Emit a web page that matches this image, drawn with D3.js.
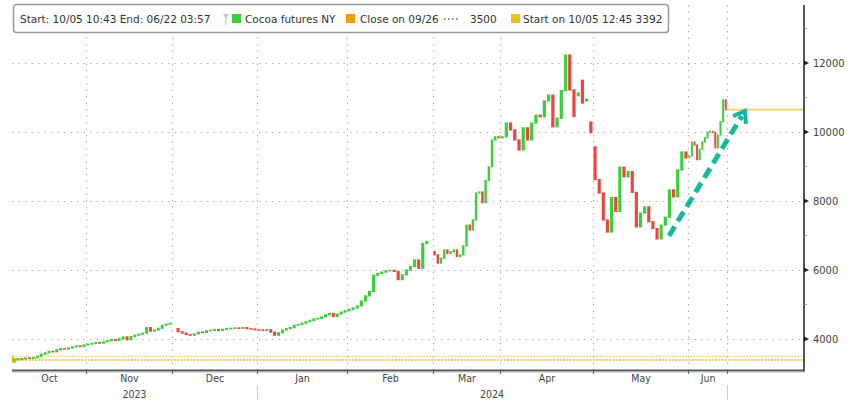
<!DOCTYPE html>
<html><head><meta charset="utf-8">
<script src="https://cdn.jsdelivr.net/npm/d3@7"></script>
<style>
html,body{margin:0;padding:0;background:#fff;}
svg{display:block;}
.ax{font-family:"DejaVu Sans Condensed","DejaVu Sans",sans-serif;font-stretch:condensed;font-size:10.5px;fill:#444;}
.lg{font-family:"DejaVu Sans",sans-serif;font-size:10.5px;fill:#333;}
</style></head><body>
<svg id="c" width="848" height="400"></svg>
<script>
// ---- data ----
const monthLabels = ["Oct","Nov","Dec","Jan","Feb","Mar","Apr","May","Jun"];
const yearLabels = ["2023","2024"];
const yearFirstMonth = [0, 3];          // month index where each year starts
const octCloses = [3400,3430,3420,3450,3440,3460,3500,3560,3600,3640,3630,3690,3720,3710,3740,3770,3800,3780,3830];
const novCloses = [3850,3870,3900,3880,3920,3950,3980,3960,4010,4060,3980,4070,4110,4140,4170,4330,4230,4260,4310,4400,4430,4460];
const decCloses = [null,4210,4170,4130,4110,4150,4200,4190,4240,4250,4270,4250,4280,4300,4310,4320,4310,4330,4300,4290,4270];
const janCloses = [4260,4250,4270,4200,4110,4180,4260,4300,4330,4400,4420,4460,4500,4540,4580,4600,4640,4700,4740,4650,4720,4780,4820];
const febCloses = [4860,4900,4960,5100,5250,5380,5850,5900,5940,5980,5990,5960,5720,5860,6000,6100,6290,6050,6770,6830,null];
const marCloses = [6440,6200,6340,6580,6480,6530,6580,6390,6440,6700,7300,7160,7450,8230,8260,7950,8600,8990,9770,9860,9830];
const aprCloses = [9860,10260,10060,9770,9480,10120,9770,10260,10490,10440,10900,11070,10150,10400,11200,12230,11220,10450,11130,10840,10950,9980];
const mayCloses = [8620,8230,7450,7100,8100,7700,8980,8700,8850,8250,7250,7650,7830,7400,7200,6900,7300,7530,8320,8120,8900,9420,9250];
const junCloses = [9300,9710,9620,9200,9500,9710,9830,10000,10020,9990,9540,9910,10300,10930,10650];
// opens of bars that start away from the previous close (after gaps): [session, open]
const gapOpens = [[42,4300],[106,6540],[145,11050],[146,11500],[147,10900],[148,10290],[149,9570]];
const startPrice = 3392, closeRef = 3500, lastPrice = 10650;
const yMajor = [4000,6000,8000,10000,12000];
const yMinor = [5000,7000,9000,11000,13000];
const arrowPts = [[167.4, 6990],[194, 10610]];   // [session, price]

// ---- scales ----
const svg = d3.select("#c");
const monthCloses = [octCloses,novCloses,decCloses,janCloses,febCloses,marCloses,aprCloses,mayCloses,junCloses];
const closes = monthCloses.flat();
const bounds = [0];
monthCloses.forEach(m => bounds.push(bounds[bounds.length-1] + m.length));
const padSessions = 30;
const x = d3.scaleLinear()
  .domain(bounds.concat([bounds[bounds.length-1] + padSessions]))
  .range([12, 86, 172, 257, 347, 433, 500, 593, 688, 727, 804]);
const y = d3.scaleLinear().domain([4000,12000]).range([339,63]);
const L = 12, R = 804, T = 5, B = 370;

// ---- grid ----
const grid = svg.append("g");
grid.selectAll(".hg").data(yMajor).join("line")
  .attr("x1", L).attr("x2", R).attr("y1", d=>y(d)+0.5).attr("y2", d=>y(d)+0.5)
  .attr("stroke","#b5b5b5").attr("stroke-width",1.2).attr("stroke-dasharray","1.5,5");
grid.selectAll(".vg").data(bounds.slice(1)).join("line")
  .attr("x1", d=>x(d)+0.5).attr("x2", d=>x(d)+0.5).attr("y1", T).attr("y2", B)
  .attr("stroke","#b5b5b5").attr("stroke-width",1.2).attr("stroke-dasharray","1.5,5");

// reference lines
svg.append("line").attr("x1",L).attr("x2",R).attr("y1",y(closeRef)).attr("y2",y(closeRef))
  .attr("stroke","#f5c27e").attr("stroke-width",1).attr("stroke-dasharray","1,1");
svg.append("line").attr("x1",L).attr("x2",R).attr("y1",y(startPrice)).attr("y2",y(startPrice))
  .attr("stroke","#e2c400").attr("stroke-width",1.6).attr("stroke-dasharray","2,1.3");
svg.append("line").attr("x1",x(bounds[bounds.length-1])).attr("x2",R)
  .attr("y1",y(lastPrice)).attr("y2",y(lastPrice))
  .attr("stroke","#f6d070").attr("stroke-width",1.6);
// start marker
svg.append("path")
  .attr("d", `M${x(0)},${y(startPrice)-5} L${x(0)+4},${y(startPrice)-1} L${x(0)+4},${y(startPrice)+3} L${x(0)},${y(startPrice)+3} Z`)
  .attr("fill","#e8c300");

// ---- candles ----
const gapMap = new Map(gapOpens);
const candles = [];
closes.forEach((c,i) => {
  if (c == null) return;
  const prev = i > 0 ? closes[i-1] : startPrice;
  const o = gapMap.has(i) ? gapMap.get(i) : (prev != null ? prev : c);
  candles.push({i, o, c});
});
svg.append("g").selectAll("rect").data(candles).join("rect")
  .attr("x", d => x(d.i + 0.12))
  .attr("width", d => x(d.i + 0.88) - x(d.i + 0.12))
  .attr("y", d => y(Math.max(d.o, d.c)) - 0.6)
  .attr("height", d => Math.max(1.6, Math.abs(y(d.o) - y(d.c)) + 1.2))
  .attr("fill", d => d.c >= d.o ? "#3ccf3c" : "#f0443e");

// ---- arrow ----
const ax1 = x(arrowPts[0][0]), ay1 = y(arrowPts[0][1]);
const ax2 = x(arrowPts[1][0]), ay2 = y(arrowPts[1][1]);
const ang = Math.atan2(ay2-ay1, ax2-ax1);
const shaftEnd = [ax2 - 6*Math.cos(ang), ay2 - 6*Math.sin(ang)];
svg.append("line").attr("x1",ax1).attr("y1",ay1).attr("x2",shaftEnd[0]).attr("y2",shaftEnd[1])
  .attr("stroke","#16b89e").attr("stroke-width",5).attr("stroke-dasharray","11,6");
const hl = 13, ha = 0.62;
svg.append("path")
  .attr("d", `M${ax2-hl*Math.cos(ang-ha)},${ay2-hl*Math.sin(ang-ha)} L${ax2},${ay2} L${ax2-hl*Math.cos(ang+ha)},${ay2-hl*Math.sin(ang+ha)}`)
  .attr("fill","none").attr("stroke","#16b89e").attr("stroke-width",4).attr("stroke-linejoin","miter");

// ---- axes ----
// right
svg.append("line").attr("x1",R).attr("x2",R).attr("y1",T).attr("y2",B+1.5)
  .attr("stroke","#555").attr("stroke-width",2);
svg.selectAll(".mn").data(yMinor).join("line")
  .attr("x1",R).attr("x2",R+3).attr("y1",d=>y(d)).attr("y2",d=>y(d))
  .attr("stroke","#999").attr("stroke-width",1);
svg.selectAll(".tri").data(yMajor).join("path")
  .attr("d", d => `M${R},${y(d)-2.5} L${R+5},${y(d)} L${R},${y(d)+2.5} Z`).attr("fill","#222");
const yAxis = svg.append("g").attr("transform",`translate(${R},0)`)
  .call(d3.axisRight(y).tickValues(yMajor).tickSize(0).tickPadding(9).tickFormat(d3.format("d")));
yAxis.select(".domain").remove();
yAxis.selectAll("text").attr("class","ax").style("font-size","11px").attr("dy","0.35em");

// bottom
svg.append("line").attr("x1",L).attr("x2",R+1).attr("y1",B+0.5).attr("y2",B+0.5)
  .attr("stroke","#555").attr("stroke-width",2);
svg.append("line").attr("x1",L).attr("x2",R+1).attr("y1",B+2).attr("y2",B+2)
  .attr("stroke","#bbb").attr("stroke-width",1);
svg.selectAll(".xt").data(bounds.slice(1)).join("line")
  .attr("x1",d=>x(d)+0.5).attr("x2",d=>x(d)+0.5).attr("y1",B+1).attr("y2",B+4)
  .attr("stroke","#666").attr("stroke-width",1.2);
const monthCenters = monthLabels.map((m,k) => (bounds[k] + bounds[k+1]) / 2);
const xAxis = svg.append("g").attr("transform",`translate(0,${B})`)
  .call(d3.axisBottom(x).tickValues(monthCenters).tickSize(0).tickPadding(5)
        .tickFormat((d,k) => monthLabels[k]));
xAxis.select(".domain").remove();
xAxis.selectAll("text").attr("class","ax");
// years
const yearBounds = yearFirstMonth.map(k => bounds[k]).concat([bounds[bounds.length-1]]);
yearLabels.forEach((yl,k) => {
  svg.append("text").attr("class","ax").attr("text-anchor","middle")
    .attr("x", (x(yearBounds[k]) + x(yearBounds[k+1]))/2).attr("y", 397.5).text(yl);
});
svg.selectAll(".ysep").data(yearBounds.slice(1)).join("line")
  .attr("x1",d=>x(d)+0.5).attr("x2",d=>x(d)+0.5).attr("y1",385).attr("y2",400)
  .attr("stroke","#ccc").attr("stroke-width",1);

// ---- legend ----
const lg = svg.append("g");
lg.append("rect").attr("x",13.5).attr("y",4.5).attr("width",655).attr("height",28).attr("rx",3)
  .attr("fill","#fff").attr("stroke","#9a9a9a").attr("stroke-width",1.5);
const ty = 22.5;
lg.append("text").attr("class","lg").attr("x",20).attr("y",ty).text("Start: 10/05 10:43 End: 06/22 03:57");
lg.append("path").attr("d","M223,14 L229,14 L226,19 Z").attr("fill","#c8c8c8");
lg.append("line").attr("x1",226).attr("x2",226).attr("y1",18).attr("y2",25).attr("stroke","#c8c8c8").attr("stroke-width",1.2);
lg.append("rect").attr("x",232).attr("y",14).attr("width",9).attr("height",9).attr("fill","#3ccf3c");
lg.append("text").attr("class","lg").attr("x",245).attr("y",ty).text("Cocoa futures NY");
lg.append("rect").attr("x",346).attr("y",14).attr("width",9).attr("height",9).attr("fill","#f39a12");
lg.append("text").attr("class","lg").attr("x",360).attr("y",ty).text("Close on 09/26");
lg.append("line").attr("x1",444).attr("x2",460).attr("y1",19).attr("y2",19)
  .attr("stroke","#666").attr("stroke-width",1.3).attr("stroke-dasharray","1.5,2.5");
lg.append("text").attr("class","lg").attr("x",470).attr("y",ty).text("3500");
lg.append("rect").attr("x",511).attr("y",14).attr("width",9).attr("height",9).attr("fill","#e6c619");
lg.append("text").attr("class","lg").attr("x",523).attr("y",ty).text("Start on 10/05 12:45 3392");
</script>
</body></html>
